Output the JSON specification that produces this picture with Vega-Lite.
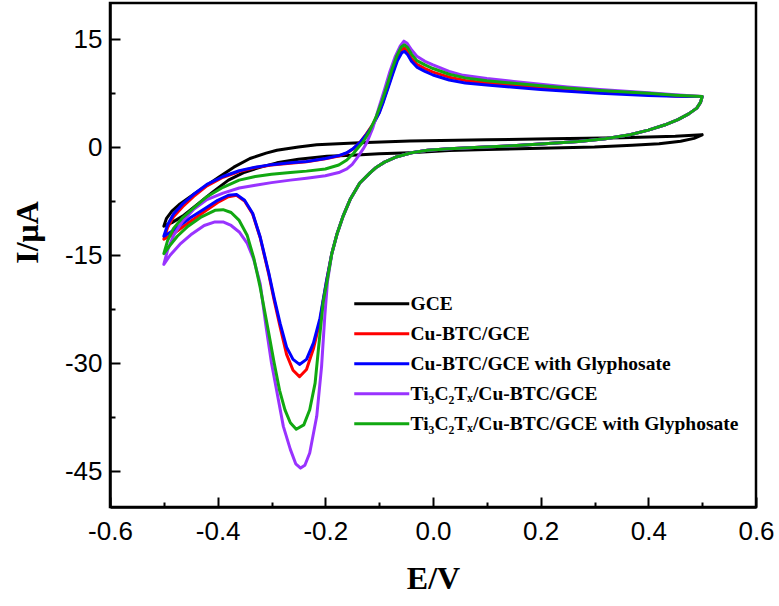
{
"$schema": "https://vega.github.io/schema/vega-lite/v6.json",
"width": 646, "height": 504,
"autosize": "none",
"padding": {"left": 110, "top": 3, "right": 23, "bottom": 99},
"background": "white",
"config": {"view": {"stroke": "black", "strokeWidth": 2.5},
 "axis": {"grid": false, "domainColor": "black", "domainWidth": 2.5, "tickColor": "black", "tickWidth": 2, "labelColor": "black", "titleColor": "black", "labelFont": "Liberation Sans", "labelFontSize": 26, "titleFont": "Liberation Serif", "titleFontWeight": "bold", "titleFontSize": 32}},
"data": {"values": [
{"s":"GCE","i":0,"E":0.5,"I":1.7},{"s":"GCE","i":1,"E":0.485,"I":1.2},{"s":"GCE","i":2,"E":0.46,"I":0.8},{"s":"GCE","i":3,"E":0.42,"I":0.45},{"s":"GCE","i":4,"E":0.37,"I":0.25},{"s":"GCE","i":5,"E":0.3,"I":0.0},{"s":"GCE","i":6,"E":0.22,"I":-0.15},{"s":"GCE","i":7,"E":0.1,"I":-0.35},{"s":"GCE","i":8,"E":0.03,"I":-0.5},{"s":"GCE","i":9,"E":-0.043,"I":-0.8},{"s":"GCE","i":10,"E":-0.1,"I":-0.95},{"s":"GCE","i":11,"E":-0.15,"I":-1.15},{"s":"GCE","i":12,"E":-0.197,"I":-1.3},{"s":"GCE","i":13,"E":-0.25,"I":-1.7},{"s":"GCE","i":14,"E":-0.29,"I":-2.2},{"s":"GCE","i":15,"E":-0.32,"I":-2.8},{"s":"GCE","i":16,"E":-0.35,"I":-3.5},{"s":"GCE","i":17,"E":-0.38,"I":-4.6},{"s":"GCE","i":18,"E":-0.41,"I":-6.3},{"s":"GCE","i":19,"E":-0.44,"I":-8.1},{"s":"GCE","i":20,"E":-0.465,"I":-9.6},{"s":"GCE","i":21,"E":-0.485,"I":-10.5},{"s":"GCE","i":22,"E":-0.5,"I":-11.0},{"s":"GCE","i":23,"E":-0.495,"I":-9.9},{"s":"GCE","i":24,"E":-0.485,"I":-8.9},{"s":"GCE","i":25,"E":-0.47,"I":-7.9},{"s":"GCE","i":26,"E":-0.445,"I":-6.6},{"s":"GCE","i":27,"E":-0.42,"I":-5.3},{"s":"GCE","i":28,"E":-0.396,"I":-4.1},{"s":"GCE","i":29,"E":-0.37,"I":-2.8},{"s":"GCE","i":30,"E":-0.34,"I":-1.6},{"s":"GCE","i":31,"E":-0.31,"I":-0.85},{"s":"GCE","i":32,"E":-0.29,"I":-0.45},{"s":"GCE","i":33,"E":-0.25,"I":0.0},{"s":"GCE","i":34,"E":-0.216,"I":0.3},{"s":"GCE","i":35,"E":-0.136,"I":0.6},{"s":"GCE","i":36,"E":-0.043,"I":0.85},{"s":"GCE","i":37,"E":0.1,"I":1.0},{"s":"GCE","i":38,"E":0.22,"I":1.15},{"s":"GCE","i":39,"E":0.35,"I":1.3},{"s":"GCE","i":40,"E":0.45,"I":1.5},{"s":"GCE","i":41,"E":0.5,"I":1.7},

{"s":"Cu-BTC/GCE","i":0,"E":0.5,"I":7.0},{"s":"Cu-BTC/GCE","i":1,"E":0.497,"I":6.2},{"s":"Cu-BTC/GCE","i":2,"E":0.49,"I":5.4},{"s":"Cu-BTC/GCE","i":3,"E":0.475,"I":4.6},{"s":"Cu-BTC/GCE","i":4,"E":0.455,"I":3.8},{"s":"Cu-BTC/GCE","i":5,"E":0.43,"I":3.05},{"s":"Cu-BTC/GCE","i":6,"E":0.4,"I":2.35},{"s":"Cu-BTC/GCE","i":7,"E":0.366,"I":1.7},{"s":"Cu-BTC/GCE","i":8,"E":0.32,"I":1.15},{"s":"Cu-BTC/GCE","i":9,"E":0.27,"I":0.75},{"s":"Cu-BTC/GCE","i":10,"E":0.2,"I":0.4},{"s":"Cu-BTC/GCE","i":11,"E":0.14,"I":0.15},{"s":"Cu-BTC/GCE","i":12,"E":0.087,"I":-0.05},{"s":"Cu-BTC/GCE","i":13,"E":0.03,"I":-0.25},{"s":"Cu-BTC/GCE","i":14,"E":-0.01,"I":-0.45},{"s":"Cu-BTC/GCE","i":15,"E":-0.04,"I":-0.8},{"s":"Cu-BTC/GCE","i":16,"E":-0.067,"I":-1.35},{"s":"Cu-BTC/GCE","i":17,"E":-0.09,"I":-2.1},{"s":"Cu-BTC/GCE","i":18,"E":-0.105,"I":-2.8},{"s":"Cu-BTC/GCE","i":19,"E":-0.117,"I":-3.6},{"s":"Cu-BTC/GCE","i":20,"E":-0.136,"I":-5.0},{"s":"Cu-BTC/GCE","i":21,"E":-0.154,"I":-7.3},{"s":"Cu-BTC/GCE","i":22,"E":-0.167,"I":-9.6},{"s":"Cu-BTC/GCE","i":23,"E":-0.178,"I":-12.0},{"s":"Cu-BTC/GCE","i":24,"E":-0.188,"I":-14.8},{"s":"Cu-BTC/GCE","i":25,"E":-0.198,"I":-18.7},
{"s":"Cu-BTC/GCE","i":26,"E":-0.204,"I":-21.4},{"s":"Cu-BTC/GCE","i":27,"E":-0.21,"I":-24.2},{"s":"Cu-BTC/GCE","i":28,"E":-0.222,"I":-28.0},{"s":"Cu-BTC/GCE","i":29,"E":-0.235,"I":-30.9},{"s":"Cu-BTC/GCE","i":30,"E":-0.248,"I":-31.9},{"s":"Cu-BTC/GCE","i":31,"E":-0.26,"I":-31.0},{"s":"Cu-BTC/GCE","i":32,"E":-0.272,"I":-28.8},{"s":"Cu-BTC/GCE","i":33,"E":-0.284,"I":-25.0},{"s":"Cu-BTC/GCE","i":34,"E":-0.295,"I":-21.3},{"s":"Cu-BTC/GCE","i":35,"E":-0.305,"I":-17.7},{"s":"Cu-BTC/GCE","i":36,"E":-0.321,"I":-12.6},{"s":"Cu-BTC/GCE","i":37,"E":-0.335,"I":-9.3},{"s":"Cu-BTC/GCE","i":38,"E":-0.35,"I":-7.5},{"s":"Cu-BTC/GCE","i":39,"E":-0.365,"I":-6.7},{"s":"Cu-BTC/GCE","i":40,"E":-0.38,"I":-6.9},{"s":"Cu-BTC/GCE","i":41,"E":-0.4,"I":-7.7},{"s":"Cu-BTC/GCE","i":42,"E":-0.425,"I":-9.0},{"s":"Cu-BTC/GCE","i":43,"E":-0.45,"I":-10.3},{"s":"Cu-BTC/GCE","i":44,"E":-0.47,"I":-11.4},{"s":"Cu-BTC/GCE","i":45,"E":-0.485,"I":-12.2},{"s":"Cu-BTC/GCE","i":46,"E":-0.5,"I":-12.8},
{"s":"Cu-BTC/GCE","i":47,"E":-0.493,"I":-11.2},{"s":"Cu-BTC/GCE","i":48,"E":-0.482,"I":-9.7},{"s":"Cu-BTC/GCE","i":49,"E":-0.465,"I":-8.3},{"s":"Cu-BTC/GCE","i":50,"E":-0.445,"I":-6.9},{"s":"Cu-BTC/GCE","i":51,"E":-0.42,"I":-5.4},{"s":"Cu-BTC/GCE","i":52,"E":-0.39,"I":-4.2},{"s":"Cu-BTC/GCE","i":53,"E":-0.36,"I":-3.4},{"s":"Cu-BTC/GCE","i":54,"E":-0.33,"I":-2.85},{"s":"Cu-BTC/GCE","i":55,"E":-0.3,"I":-2.5},{"s":"Cu-BTC/GCE","i":56,"E":-0.265,"I":-2.25},{"s":"Cu-BTC/GCE","i":57,"E":-0.235,"I":-2.05},{"s":"Cu-BTC/GCE","i":58,"E":-0.2,"I":-1.65},{"s":"Cu-BTC/GCE","i":59,"E":-0.175,"I":-1.25},{"s":"Cu-BTC/GCE","i":60,"E":-0.16,"I":-0.85},{"s":"Cu-BTC/GCE","i":61,"E":-0.148,"I":-0.25},{"s":"Cu-BTC/GCE","i":62,"E":-0.136,"I":0.6},{"s":"Cu-BTC/GCE","i":63,"E":-0.124,"I":1.8},{"s":"Cu-BTC/GCE","i":64,"E":-0.112,"I":3.1},{"s":"Cu-BTC/GCE","i":65,"E":-0.1,"I":4.8},{"s":"Cu-BTC/GCE","i":66,"E":-0.092,"I":6.5},{"s":"Cu-BTC/GCE","i":67,"E":-0.083,"I":8.5},{"s":"Cu-BTC/GCE","i":68,"E":-0.074,"I":10.6},{"s":"Cu-BTC/GCE","i":69,"E":-0.066,"I":12.4},{"s":"Cu-BTC/GCE","i":70,"E":-0.058,"I":13.5},{"s":"Cu-BTC/GCE","i":71,"E":-0.053,"I":13.75},{"s":"Cu-BTC/GCE","i":72,"E":-0.047,"I":13.2},{"s":"Cu-BTC/GCE","i":73,"E":-0.04,"I":12.3},{"s":"Cu-BTC/GCE","i":74,"E":-0.03,"I":11.5},{"s":"Cu-BTC/GCE","i":75,"E":-0.015,"I":10.9},{"s":"Cu-BTC/GCE","i":76,"E":0.0,"I":10.4},{"s":"Cu-BTC/GCE","i":77,"E":0.03,"I":9.7},{"s":"Cu-BTC/GCE","i":78,"E":0.06,"I":9.25},{"s":"Cu-BTC/GCE","i":79,"E":0.1,"I":8.9},{"s":"Cu-BTC/GCE","i":80,"E":0.15,"I":8.55},{"s":"Cu-BTC/GCE","i":81,"E":0.2,"I":8.25},{"s":"Cu-BTC/GCE","i":82,"E":0.25,"I":7.95},{"s":"Cu-BTC/GCE","i":83,"E":0.31,"I":7.65},{"s":"Cu-BTC/GCE","i":84,"E":0.4,"I":7.3},{"s":"Cu-BTC/GCE","i":85,"E":0.45,"I":7.1},{"s":"Cu-BTC/GCE","i":86,"E":0.5,"I":7.0},

{"s":"Cu-BTC/GCE with Glyphosate","i":0,"E":0.5,"I":7.0},{"s":"Cu-BTC/GCE with Glyphosate","i":1,"E":0.497,"I":6.2},{"s":"Cu-BTC/GCE with Glyphosate","i":2,"E":0.49,"I":5.4},{"s":"Cu-BTC/GCE with Glyphosate","i":3,"E":0.475,"I":4.6},{"s":"Cu-BTC/GCE with Glyphosate","i":4,"E":0.455,"I":3.8},{"s":"Cu-BTC/GCE with Glyphosate","i":5,"E":0.43,"I":3.05},{"s":"Cu-BTC/GCE with Glyphosate","i":6,"E":0.4,"I":2.35},{"s":"Cu-BTC/GCE with Glyphosate","i":7,"E":0.366,"I":1.7},{"s":"Cu-BTC/GCE with Glyphosate","i":8,"E":0.32,"I":1.15},{"s":"Cu-BTC/GCE with Glyphosate","i":9,"E":0.27,"I":0.75},{"s":"Cu-BTC/GCE with Glyphosate","i":10,"E":0.2,"I":0.4},{"s":"Cu-BTC/GCE with Glyphosate","i":11,"E":0.14,"I":0.15},{"s":"Cu-BTC/GCE with Glyphosate","i":12,"E":0.087,"I":-0.05},{"s":"Cu-BTC/GCE with Glyphosate","i":13,"E":0.03,"I":-0.25},{"s":"Cu-BTC/GCE with Glyphosate","i":14,"E":-0.01,"I":-0.45},{"s":"Cu-BTC/GCE with Glyphosate","i":15,"E":-0.04,"I":-0.8},{"s":"Cu-BTC/GCE with Glyphosate","i":16,"E":-0.067,"I":-1.35},{"s":"Cu-BTC/GCE with Glyphosate","i":17,"E":-0.09,"I":-2.1},{"s":"Cu-BTC/GCE with Glyphosate","i":18,"E":-0.105,"I":-2.8},{"s":"Cu-BTC/GCE with Glyphosate","i":19,"E":-0.117,"I":-3.6},{"s":"Cu-BTC/GCE with Glyphosate","i":20,"E":-0.136,"I":-5.0},{"s":"Cu-BTC/GCE with Glyphosate","i":21,"E":-0.154,"I":-7.3},{"s":"Cu-BTC/GCE with Glyphosate","i":22,"E":-0.167,"I":-9.6},{"s":"Cu-BTC/GCE with Glyphosate","i":23,"E":-0.178,"I":-12.0},{"s":"Cu-BTC/GCE with Glyphosate","i":24,"E":-0.188,"I":-14.8},{"s":"Cu-BTC/GCE with Glyphosate","i":25,"E":-0.198,"I":-18.7},
{"s":"Cu-BTC/GCE with Glyphosate","i":26,"E":-0.204,"I":-21.2},{"s":"Cu-BTC/GCE with Glyphosate","i":27,"E":-0.21,"I":-23.8},{"s":"Cu-BTC/GCE with Glyphosate","i":28,"E":-0.222,"I":-27.2},{"s":"Cu-BTC/GCE with Glyphosate","i":29,"E":-0.235,"I":-29.5},{"s":"Cu-BTC/GCE with Glyphosate","i":30,"E":-0.248,"I":-30.2},{"s":"Cu-BTC/GCE with Glyphosate","i":31,"E":-0.26,"I":-29.5},{"s":"Cu-BTC/GCE with Glyphosate","i":32,"E":-0.272,"I":-27.8},{"s":"Cu-BTC/GCE with Glyphosate","i":33,"E":-0.284,"I":-24.5},{"s":"Cu-BTC/GCE with Glyphosate","i":34,"E":-0.295,"I":-21.0},{"s":"Cu-BTC/GCE with Glyphosate","i":35,"E":-0.305,"I":-17.5},{"s":"Cu-BTC/GCE with Glyphosate","i":36,"E":-0.321,"I":-12.5},{"s":"Cu-BTC/GCE with Glyphosate","i":37,"E":-0.335,"I":-9.2},{"s":"Cu-BTC/GCE with Glyphosate","i":38,"E":-0.35,"I":-7.4},{"s":"Cu-BTC/GCE with Glyphosate","i":39,"E":-0.365,"I":-6.6},{"s":"Cu-BTC/GCE with Glyphosate","i":40,"E":-0.38,"I":-6.7},{"s":"Cu-BTC/GCE with Glyphosate","i":41,"E":-0.4,"I":-7.4},{"s":"Cu-BTC/GCE with Glyphosate","i":42,"E":-0.425,"I":-8.6},{"s":"Cu-BTC/GCE with Glyphosate","i":43,"E":-0.45,"I":-9.8},{"s":"Cu-BTC/GCE with Glyphosate","i":44,"E":-0.47,"I":-10.9},{"s":"Cu-BTC/GCE with Glyphosate","i":45,"E":-0.485,"I":-11.7},{"s":"Cu-BTC/GCE with Glyphosate","i":46,"E":-0.5,"I":-12.4},
{"s":"Cu-BTC/GCE with Glyphosate","i":47,"E":-0.493,"I":-10.8},{"s":"Cu-BTC/GCE with Glyphosate","i":48,"E":-0.482,"I":-9.3},{"s":"Cu-BTC/GCE with Glyphosate","i":49,"E":-0.465,"I":-7.9},{"s":"Cu-BTC/GCE with Glyphosate","i":50,"E":-0.445,"I":-6.6},{"s":"Cu-BTC/GCE with Glyphosate","i":51,"E":-0.42,"I":-5.2},{"s":"Cu-BTC/GCE with Glyphosate","i":52,"E":-0.39,"I":-4.1},{"s":"Cu-BTC/GCE with Glyphosate","i":53,"E":-0.36,"I":-3.3},{"s":"Cu-BTC/GCE with Glyphosate","i":54,"E":-0.33,"I":-2.8},{"s":"Cu-BTC/GCE with Glyphosate","i":55,"E":-0.3,"I":-2.45},{"s":"Cu-BTC/GCE with Glyphosate","i":56,"E":-0.265,"I":-2.2},{"s":"Cu-BTC/GCE with Glyphosate","i":57,"E":-0.235,"I":-2.0},{"s":"Cu-BTC/GCE with Glyphosate","i":58,"E":-0.2,"I":-1.6},{"s":"Cu-BTC/GCE with Glyphosate","i":59,"E":-0.175,"I":-1.2},{"s":"Cu-BTC/GCE with Glyphosate","i":60,"E":-0.16,"I":-0.8},{"s":"Cu-BTC/GCE with Glyphosate","i":61,"E":-0.148,"I":-0.2},{"s":"Cu-BTC/GCE with Glyphosate","i":62,"E":-0.136,"I":0.6},{"s":"Cu-BTC/GCE with Glyphosate","i":63,"E":-0.124,"I":1.7},{"s":"Cu-BTC/GCE with Glyphosate","i":64,"E":-0.112,"I":3.0},{"s":"Cu-BTC/GCE with Glyphosate","i":65,"E":-0.1,"I":4.7},{"s":"Cu-BTC/GCE with Glyphosate","i":66,"E":-0.092,"I":6.3},{"s":"Cu-BTC/GCE with Glyphosate","i":67,"E":-0.083,"I":8.3},{"s":"Cu-BTC/GCE with Glyphosate","i":68,"E":-0.074,"I":10.3},{"s":"Cu-BTC/GCE with Glyphosate","i":69,"E":-0.066,"I":12.0},{"s":"Cu-BTC/GCE with Glyphosate","i":70,"E":-0.058,"I":13.1},{"s":"Cu-BTC/GCE with Glyphosate","i":71,"E":-0.053,"I":13.3},{"s":"Cu-BTC/GCE with Glyphosate","i":72,"E":-0.047,"I":12.8},{"s":"Cu-BTC/GCE with Glyphosate","i":73,"E":-0.04,"I":11.9},{"s":"Cu-BTC/GCE with Glyphosate","i":74,"E":-0.03,"I":11.1},{"s":"Cu-BTC/GCE with Glyphosate","i":75,"E":-0.015,"I":10.5},{"s":"Cu-BTC/GCE with Glyphosate","i":76,"E":0.0,"I":10.0},{"s":"Cu-BTC/GCE with Glyphosate","i":77,"E":0.03,"I":9.3},{"s":"Cu-BTC/GCE with Glyphosate","i":78,"E":0.06,"I":8.9},{"s":"Cu-BTC/GCE with Glyphosate","i":79,"E":0.1,"I":8.6},{"s":"Cu-BTC/GCE with Glyphosate","i":80,"E":0.15,"I":8.3},{"s":"Cu-BTC/GCE with Glyphosate","i":81,"E":0.2,"I":8.0},{"s":"Cu-BTC/GCE with Glyphosate","i":82,"E":0.25,"I":7.75},{"s":"Cu-BTC/GCE with Glyphosate","i":83,"E":0.31,"I":7.45},{"s":"Cu-BTC/GCE with Glyphosate","i":84,"E":0.4,"I":7.15},{"s":"Cu-BTC/GCE with Glyphosate","i":85,"E":0.45,"I":7.05},{"s":"Cu-BTC/GCE with Glyphosate","i":86,"E":0.5,"I":7.0},

{"s":"Ti₃C₂Tₓ/Cu-BTC/GCE","i":0,"E":0.5,"I":7.0},{"s":"Ti₃C₂Tₓ/Cu-BTC/GCE","i":1,"E":0.497,"I":6.2},{"s":"Ti₃C₂Tₓ/Cu-BTC/GCE","i":2,"E":0.49,"I":5.4},{"s":"Ti₃C₂Tₓ/Cu-BTC/GCE","i":3,"E":0.475,"I":4.6},{"s":"Ti₃C₂Tₓ/Cu-BTC/GCE","i":4,"E":0.455,"I":3.8},{"s":"Ti₃C₂Tₓ/Cu-BTC/GCE","i":5,"E":0.43,"I":3.05},{"s":"Ti₃C₂Tₓ/Cu-BTC/GCE","i":6,"E":0.4,"I":2.35},{"s":"Ti₃C₂Tₓ/Cu-BTC/GCE","i":7,"E":0.366,"I":1.7},{"s":"Ti₃C₂Tₓ/Cu-BTC/GCE","i":8,"E":0.32,"I":1.15},{"s":"Ti₃C₂Tₓ/Cu-BTC/GCE","i":9,"E":0.27,"I":0.75},{"s":"Ti₃C₂Tₓ/Cu-BTC/GCE","i":10,"E":0.2,"I":0.4},{"s":"Ti₃C₂Tₓ/Cu-BTC/GCE","i":11,"E":0.14,"I":0.15},{"s":"Ti₃C₂Tₓ/Cu-BTC/GCE","i":12,"E":0.087,"I":-0.05},{"s":"Ti₃C₂Tₓ/Cu-BTC/GCE","i":13,"E":0.03,"I":-0.25},{"s":"Ti₃C₂Tₓ/Cu-BTC/GCE","i":14,"E":-0.01,"I":-0.45},{"s":"Ti₃C₂Tₓ/Cu-BTC/GCE","i":15,"E":-0.04,"I":-0.8},{"s":"Ti₃C₂Tₓ/Cu-BTC/GCE","i":16,"E":-0.067,"I":-1.35},{"s":"Ti₃C₂Tₓ/Cu-BTC/GCE","i":17,"E":-0.09,"I":-2.1},{"s":"Ti₃C₂Tₓ/Cu-BTC/GCE","i":18,"E":-0.105,"I":-2.8},{"s":"Ti₃C₂Tₓ/Cu-BTC/GCE","i":19,"E":-0.117,"I":-3.6},{"s":"Ti₃C₂Tₓ/Cu-BTC/GCE","i":20,"E":-0.136,"I":-5.0},{"s":"Ti₃C₂Tₓ/Cu-BTC/GCE","i":21,"E":-0.154,"I":-7.3},{"s":"Ti₃C₂Tₓ/Cu-BTC/GCE","i":22,"E":-0.167,"I":-9.6},{"s":"Ti₃C₂Tₓ/Cu-BTC/GCE","i":23,"E":-0.178,"I":-12.0},{"s":"Ti₃C₂Tₓ/Cu-BTC/GCE","i":24,"E":-0.188,"I":-14.8},{"s":"Ti₃C₂Tₓ/Cu-BTC/GCE","i":25,"E":-0.196,"I":-18.7},
{"s":"Ti₃C₂Tₓ/Cu-BTC/GCE","i":26,"E":-0.201,"I":-23.5},{"s":"Ti₃C₂Tₓ/Cu-BTC/GCE","i":27,"E":-0.207,"I":-30.5},{"s":"Ti₃C₂Tₓ/Cu-BTC/GCE","i":28,"E":-0.216,"I":-37.4},{"s":"Ti₃C₂Tₓ/Cu-BTC/GCE","i":29,"E":-0.229,"I":-42.5},{"s":"Ti₃C₂Tₓ/Cu-BTC/GCE","i":30,"E":-0.238,"I":-44.2},{"s":"Ti₃C₂Tₓ/Cu-BTC/GCE","i":31,"E":-0.246,"I":-44.6},{"s":"Ti₃C₂Tₓ/Cu-BTC/GCE","i":32,"E":-0.255,"I":-44.0},{"s":"Ti₃C₂Tₓ/Cu-BTC/GCE","i":33,"E":-0.265,"I":-42.0},{"s":"Ti₃C₂Tₓ/Cu-BTC/GCE","i":34,"E":-0.278,"I":-38.8},{"s":"Ti₃C₂Tₓ/Cu-BTC/GCE","i":35,"E":-0.29,"I":-34.0},{"s":"Ti₃C₂Tₓ/Cu-BTC/GCE","i":36,"E":-0.3,"I":-30.0},{"s":"Ti₃C₂Tₓ/Cu-BTC/GCE","i":37,"E":-0.31,"I":-25.0},{"s":"Ti₃C₂Tₓ/Cu-BTC/GCE","i":38,"E":-0.321,"I":-19.0},{"s":"Ti₃C₂Tₓ/Cu-BTC/GCE","i":39,"E":-0.333,"I":-15.6},{"s":"Ti₃C₂Tₓ/Cu-BTC/GCE","i":40,"E":-0.345,"I":-13.4},{"s":"Ti₃C₂Tₓ/Cu-BTC/GCE","i":41,"E":-0.36,"I":-11.8},{"s":"Ti₃C₂Tₓ/Cu-BTC/GCE","i":42,"E":-0.375,"I":-10.9},{"s":"Ti₃C₂Tₓ/Cu-BTC/GCE","i":43,"E":-0.39,"I":-10.4},{"s":"Ti₃C₂Tₓ/Cu-BTC/GCE","i":44,"E":-0.405,"I":-10.4},{"s":"Ti₃C₂Tₓ/Cu-BTC/GCE","i":45,"E":-0.425,"I":-10.9},{"s":"Ti₃C₂Tₓ/Cu-BTC/GCE","i":46,"E":-0.45,"I":-12.2},{"s":"Ti₃C₂Tₓ/Cu-BTC/GCE","i":47,"E":-0.47,"I":-13.5},{"s":"Ti₃C₂Tₓ/Cu-BTC/GCE","i":48,"E":-0.488,"I":-15.0},{"s":"Ti₃C₂Tₓ/Cu-BTC/GCE","i":49,"E":-0.5,"I":-16.3},
{"s":"Ti₃C₂Tₓ/Cu-BTC/GCE","i":50,"E":-0.493,"I":-14.3},{"s":"Ti₃C₂Tₓ/Cu-BTC/GCE","i":51,"E":-0.482,"I":-12.3},{"s":"Ti₃C₂Tₓ/Cu-BTC/GCE","i":52,"E":-0.465,"I":-10.3},{"s":"Ti₃C₂Tₓ/Cu-BTC/GCE","i":53,"E":-0.445,"I":-8.7},{"s":"Ti₃C₂Tₓ/Cu-BTC/GCE","i":54,"E":-0.42,"I":-7.3},{"s":"Ti₃C₂Tₓ/Cu-BTC/GCE","i":55,"E":-0.39,"I":-6.4},{"s":"Ti₃C₂Tₓ/Cu-BTC/GCE","i":56,"E":-0.36,"I":-5.7},{"s":"Ti₃C₂Tₓ/Cu-BTC/GCE","i":57,"E":-0.33,"I":-5.3},{"s":"Ti₃C₂Tₓ/Cu-BTC/GCE","i":58,"E":-0.3,"I":-4.95},{"s":"Ti₃C₂Tₓ/Cu-BTC/GCE","i":59,"E":-0.265,"I":-4.6},{"s":"Ti₃C₂Tₓ/Cu-BTC/GCE","i":60,"E":-0.235,"I":-4.35},{"s":"Ti₃C₂Tₓ/Cu-BTC/GCE","i":61,"E":-0.2,"I":-4.0},{"s":"Ti₃C₂Tₓ/Cu-BTC/GCE","i":62,"E":-0.175,"I":-3.55},{"s":"Ti₃C₂Tₓ/Cu-BTC/GCE","i":63,"E":-0.16,"I":-3.05},{"s":"Ti₃C₂Tₓ/Cu-BTC/GCE","i":64,"E":-0.15,"I":-2.4},{"s":"Ti₃C₂Tₓ/Cu-BTC/GCE","i":65,"E":-0.14,"I":-1.4},{"s":"Ti₃C₂Tₓ/Cu-BTC/GCE","i":66,"E":-0.13,"I":-0.3},{"s":"Ti₃C₂Tₓ/Cu-BTC/GCE","i":67,"E":-0.123,"I":0.6},{"s":"Ti₃C₂Tₓ/Cu-BTC/GCE","i":68,"E":-0.112,"I":2.6},{"s":"Ti₃C₂Tₓ/Cu-BTC/GCE","i":69,"E":-0.1,"I":5.6},{"s":"Ti₃C₂Tₓ/Cu-BTC/GCE","i":70,"E":-0.09,"I":8.0},{"s":"Ti₃C₂Tₓ/Cu-BTC/GCE","i":71,"E":-0.08,"I":10.5},{"s":"Ti₃C₂Tₓ/Cu-BTC/GCE","i":72,"E":-0.07,"I":12.6},{"s":"Ti₃C₂Tₓ/Cu-BTC/GCE","i":73,"E":-0.061,"I":14.0},{"s":"Ti₃C₂Tₓ/Cu-BTC/GCE","i":74,"E":-0.054,"I":14.7},{"s":"Ti₃C₂Tₓ/Cu-BTC/GCE","i":75,"E":-0.048,"I":14.4},{"s":"Ti₃C₂Tₓ/Cu-BTC/GCE","i":76,"E":-0.04,"I":13.5},{"s":"Ti₃C₂Tₓ/Cu-BTC/GCE","i":77,"E":-0.03,"I":12.6},{"s":"Ti₃C₂Tₓ/Cu-BTC/GCE","i":78,"E":-0.015,"I":11.9},{"s":"Ti₃C₂Tₓ/Cu-BTC/GCE","i":79,"E":0.0,"I":11.4},{"s":"Ti₃C₂Tₓ/Cu-BTC/GCE","i":80,"E":0.03,"I":10.5},{"s":"Ti₃C₂Tₓ/Cu-BTC/GCE","i":81,"E":0.056,"I":9.95},{"s":"Ti₃C₂Tₓ/Cu-BTC/GCE","i":82,"E":0.1,"I":9.5},{"s":"Ti₃C₂Tₓ/Cu-BTC/GCE","i":83,"E":0.15,"I":9.1},{"s":"Ti₃C₂Tₓ/Cu-BTC/GCE","i":84,"E":0.2,"I":8.7},{"s":"Ti₃C₂Tₓ/Cu-BTC/GCE","i":85,"E":0.25,"I":8.35},{"s":"Ti₃C₂Tₓ/Cu-BTC/GCE","i":86,"E":0.31,"I":8.0},{"s":"Ti₃C₂Tₓ/Cu-BTC/GCE","i":87,"E":0.4,"I":7.55},{"s":"Ti₃C₂Tₓ/Cu-BTC/GCE","i":88,"E":0.45,"I":7.25},{"s":"Ti₃C₂Tₓ/Cu-BTC/GCE","i":89,"E":0.5,"I":7.0},

{"s":"Ti₃C₂Tₓ/Cu-BTC/GCE with Glyphosate","i":0,"E":0.5,"I":7.0},{"s":"Ti₃C₂Tₓ/Cu-BTC/GCE with Glyphosate","i":1,"E":0.497,"I":6.2},{"s":"Ti₃C₂Tₓ/Cu-BTC/GCE with Glyphosate","i":2,"E":0.49,"I":5.4},{"s":"Ti₃C₂Tₓ/Cu-BTC/GCE with Glyphosate","i":3,"E":0.475,"I":4.6},{"s":"Ti₃C₂Tₓ/Cu-BTC/GCE with Glyphosate","i":4,"E":0.455,"I":3.8},{"s":"Ti₃C₂Tₓ/Cu-BTC/GCE with Glyphosate","i":5,"E":0.43,"I":3.05},{"s":"Ti₃C₂Tₓ/Cu-BTC/GCE with Glyphosate","i":6,"E":0.4,"I":2.35},{"s":"Ti₃C₂Tₓ/Cu-BTC/GCE with Glyphosate","i":7,"E":0.366,"I":1.7},{"s":"Ti₃C₂Tₓ/Cu-BTC/GCE with Glyphosate","i":8,"E":0.32,"I":1.15},{"s":"Ti₃C₂Tₓ/Cu-BTC/GCE with Glyphosate","i":9,"E":0.27,"I":0.75},{"s":"Ti₃C₂Tₓ/Cu-BTC/GCE with Glyphosate","i":10,"E":0.2,"I":0.4},{"s":"Ti₃C₂Tₓ/Cu-BTC/GCE with Glyphosate","i":11,"E":0.14,"I":0.15},{"s":"Ti₃C₂Tₓ/Cu-BTC/GCE with Glyphosate","i":12,"E":0.087,"I":-0.05},{"s":"Ti₃C₂Tₓ/Cu-BTC/GCE with Glyphosate","i":13,"E":0.03,"I":-0.25},{"s":"Ti₃C₂Tₓ/Cu-BTC/GCE with Glyphosate","i":14,"E":-0.01,"I":-0.45},{"s":"Ti₃C₂Tₓ/Cu-BTC/GCE with Glyphosate","i":15,"E":-0.04,"I":-0.8},{"s":"Ti₃C₂Tₓ/Cu-BTC/GCE with Glyphosate","i":16,"E":-0.067,"I":-1.35},{"s":"Ti₃C₂Tₓ/Cu-BTC/GCE with Glyphosate","i":17,"E":-0.09,"I":-2.1},{"s":"Ti₃C₂Tₓ/Cu-BTC/GCE with Glyphosate","i":18,"E":-0.105,"I":-2.8},{"s":"Ti₃C₂Tₓ/Cu-BTC/GCE with Glyphosate","i":19,"E":-0.117,"I":-3.6},{"s":"Ti₃C₂Tₓ/Cu-BTC/GCE with Glyphosate","i":20,"E":-0.136,"I":-5.0},{"s":"Ti₃C₂Tₓ/Cu-BTC/GCE with Glyphosate","i":21,"E":-0.154,"I":-7.3},{"s":"Ti₃C₂Tₓ/Cu-BTC/GCE with Glyphosate","i":22,"E":-0.167,"I":-9.6},{"s":"Ti₃C₂Tₓ/Cu-BTC/GCE with Glyphosate","i":23,"E":-0.178,"I":-12.0},{"s":"Ti₃C₂Tₓ/Cu-BTC/GCE with Glyphosate","i":24,"E":-0.188,"I":-14.8},{"s":"Ti₃C₂Tₓ/Cu-BTC/GCE with Glyphosate","i":25,"E":-0.197,"I":-18.7},
{"s":"Ti₃C₂Tₓ/Cu-BTC/GCE with Glyphosate","i":26,"E":-0.204,"I":-21.5},{"s":"Ti₃C₂Tₓ/Cu-BTC/GCE with Glyphosate","i":27,"E":-0.208,"I":-24.5},{"s":"Ti₃C₂Tₓ/Cu-BTC/GCE with Glyphosate","i":28,"E":-0.213,"I":-28.2},{"s":"Ti₃C₂Tₓ/Cu-BTC/GCE with Glyphosate","i":29,"E":-0.219,"I":-32.8},{"s":"Ti₃C₂Tₓ/Cu-BTC/GCE with Glyphosate","i":30,"E":-0.229,"I":-36.5},{"s":"Ti₃C₂Tₓ/Cu-BTC/GCE with Glyphosate","i":31,"E":-0.24,"I":-38.6},{"s":"Ti₃C₂Tₓ/Cu-BTC/GCE with Glyphosate","i":32,"E":-0.254,"I":-39.2},{"s":"Ti₃C₂Tₓ/Cu-BTC/GCE with Glyphosate","i":33,"E":-0.265,"I":-38.3},{"s":"Ti₃C₂Tₓ/Cu-BTC/GCE with Glyphosate","i":34,"E":-0.275,"I":-36.5},{"s":"Ti₃C₂Tₓ/Cu-BTC/GCE with Glyphosate","i":35,"E":-0.285,"I":-33.8},{"s":"Ti₃C₂Tₓ/Cu-BTC/GCE with Glyphosate","i":36,"E":-0.295,"I":-30.0},{"s":"Ti₃C₂Tₓ/Cu-BTC/GCE with Glyphosate","i":37,"E":-0.306,"I":-25.5},{"s":"Ti₃C₂Tₓ/Cu-BTC/GCE with Glyphosate","i":38,"E":-0.321,"I":-19.5},{"s":"Ti₃C₂Tₓ/Cu-BTC/GCE with Glyphosate","i":39,"E":-0.333,"I":-15.4},{"s":"Ti₃C₂Tₓ/Cu-BTC/GCE with Glyphosate","i":40,"E":-0.345,"I":-12.3},{"s":"Ti₃C₂Tₓ/Cu-BTC/GCE with Glyphosate","i":41,"E":-0.36,"I":-10.2},{"s":"Ti₃C₂Tₓ/Cu-BTC/GCE with Glyphosate","i":42,"E":-0.375,"I":-9.1},{"s":"Ti₃C₂Tₓ/Cu-BTC/GCE with Glyphosate","i":43,"E":-0.39,"I":-8.7},{"s":"Ti₃C₂Tₓ/Cu-BTC/GCE with Glyphosate","i":44,"E":-0.405,"I":-8.8},{"s":"Ti₃C₂Tₓ/Cu-BTC/GCE with Glyphosate","i":45,"E":-0.43,"I":-9.7},{"s":"Ti₃C₂Tₓ/Cu-BTC/GCE with Glyphosate","i":46,"E":-0.455,"I":-11.0},{"s":"Ti₃C₂Tₓ/Cu-BTC/GCE with Glyphosate","i":47,"E":-0.475,"I":-12.4},{"s":"Ti₃C₂Tₓ/Cu-BTC/GCE with Glyphosate","i":48,"E":-0.49,"I":-13.8},{"s":"Ti₃C₂Tₓ/Cu-BTC/GCE with Glyphosate","i":49,"E":-0.5,"I":-14.8},
{"s":"Ti₃C₂Tₓ/Cu-BTC/GCE with Glyphosate","i":50,"E":-0.493,"I":-13.0},{"s":"Ti₃C₂Tₓ/Cu-BTC/GCE with Glyphosate","i":51,"E":-0.482,"I":-11.3},{"s":"Ti₃C₂Tₓ/Cu-BTC/GCE with Glyphosate","i":52,"E":-0.465,"I":-9.8},{"s":"Ti₃C₂Tₓ/Cu-BTC/GCE with Glyphosate","i":53,"E":-0.445,"I":-8.5},{"s":"Ti₃C₂Tₓ/Cu-BTC/GCE with Glyphosate","i":54,"E":-0.42,"I":-6.9},{"s":"Ti₃C₂Tₓ/Cu-BTC/GCE with Glyphosate","i":55,"E":-0.39,"I":-5.6},{"s":"Ti₃C₂Tₓ/Cu-BTC/GCE with Glyphosate","i":56,"E":-0.36,"I":-4.6},{"s":"Ti₃C₂Tₓ/Cu-BTC/GCE with Glyphosate","i":57,"E":-0.33,"I":-4.1},{"s":"Ti₃C₂Tₓ/Cu-BTC/GCE with Glyphosate","i":58,"E":-0.3,"I":-3.8},{"s":"Ti₃C₂Tₓ/Cu-BTC/GCE with Glyphosate","i":59,"E":-0.265,"I":-3.55},{"s":"Ti₃C₂Tₓ/Cu-BTC/GCE with Glyphosate","i":60,"E":-0.235,"I":-3.35},{"s":"Ti₃C₂Tₓ/Cu-BTC/GCE with Glyphosate","i":61,"E":-0.2,"I":-3.05},{"s":"Ti₃C₂Tₓ/Cu-BTC/GCE with Glyphosate","i":62,"E":-0.175,"I":-2.5},{"s":"Ti₃C₂Tₓ/Cu-BTC/GCE with Glyphosate","i":63,"E":-0.16,"I":-1.8},{"s":"Ti₃C₂Tₓ/Cu-BTC/GCE with Glyphosate","i":64,"E":-0.148,"I":-0.9},{"s":"Ti₃C₂Tₓ/Cu-BTC/GCE with Glyphosate","i":65,"E":-0.138,"I":0.0},{"s":"Ti₃C₂Tₓ/Cu-BTC/GCE with Glyphosate","i":66,"E":-0.13,"I":0.7},{"s":"Ti₃C₂Tₓ/Cu-BTC/GCE with Glyphosate","i":67,"E":-0.118,"I":2.2},{"s":"Ti₃C₂Tₓ/Cu-BTC/GCE with Glyphosate","i":68,"E":-0.105,"I":4.3},{"s":"Ti₃C₂Tₓ/Cu-BTC/GCE with Glyphosate","i":69,"E":-0.095,"I":6.3},{"s":"Ti₃C₂Tₓ/Cu-BTC/GCE with Glyphosate","i":70,"E":-0.085,"I":8.6},{"s":"Ti₃C₂Tₓ/Cu-BTC/GCE with Glyphosate","i":71,"E":-0.076,"I":10.8},{"s":"Ti₃C₂Tₓ/Cu-BTC/GCE with Glyphosate","i":72,"E":-0.067,"I":12.7},{"s":"Ti₃C₂Tₓ/Cu-BTC/GCE with Glyphosate","i":73,"E":-0.059,"I":13.9},{"s":"Ti₃C₂Tₓ/Cu-BTC/GCE with Glyphosate","i":74,"E":-0.053,"I":14.2},{"s":"Ti₃C₂Tₓ/Cu-BTC/GCE with Glyphosate","i":75,"E":-0.047,"I":13.8},{"s":"Ti₃C₂Tₓ/Cu-BTC/GCE with Glyphosate","i":76,"E":-0.04,"I":12.9},{"s":"Ti₃C₂Tₓ/Cu-BTC/GCE with Glyphosate","i":77,"E":-0.03,"I":12.0},{"s":"Ti₃C₂Tₓ/Cu-BTC/GCE with Glyphosate","i":78,"E":-0.015,"I":11.4},{"s":"Ti₃C₂Tₓ/Cu-BTC/GCE with Glyphosate","i":79,"E":0.0,"I":10.9},{"s":"Ti₃C₂Tₓ/Cu-BTC/GCE with Glyphosate","i":80,"E":0.03,"I":10.1},{"s":"Ti₃C₂Tₓ/Cu-BTC/GCE with Glyphosate","i":81,"E":0.06,"I":9.6},{"s":"Ti₃C₂Tₓ/Cu-BTC/GCE with Glyphosate","i":82,"E":0.1,"I":9.2},{"s":"Ti₃C₂Tₓ/Cu-BTC/GCE with Glyphosate","i":83,"E":0.15,"I":8.85},{"s":"Ti₃C₂Tₓ/Cu-BTC/GCE with Glyphosate","i":84,"E":0.2,"I":8.5},{"s":"Ti₃C₂Tₓ/Cu-BTC/GCE with Glyphosate","i":85,"E":0.25,"I":8.2},{"s":"Ti₃C₂Tₓ/Cu-BTC/GCE with Glyphosate","i":86,"E":0.31,"I":7.85},{"s":"Ti₃C₂Tₓ/Cu-BTC/GCE with Glyphosate","i":87,"E":0.4,"I":7.45},{"s":"Ti₃C₂Tₓ/Cu-BTC/GCE with Glyphosate","i":88,"E":0.45,"I":7.2},{"s":"Ti₃C₂Tₓ/Cu-BTC/GCE with Glyphosate","i":89,"E":0.5,"I":7.0}
]},
"layer": [
 {"mark": {"type": "line", "strokeWidth": 3, "strokeJoin": "round", "strokeCap": "round"},
  "encoding": {
   "x": {"field": "E", "type": "quantitative", "scale": {"domain": [-0.6, 0.6], "nice": false, "zero": false},
     "axis": {"title": "E/V", "values": [-0.6,-0.4,-0.2,0,0.2,0.4,0.6], "labelExpr": "(datum.value < 0 ? '-' : '') + format(abs(datum.value), '.1f')", "tickSize": -10, "labelPadding": 21, "labelFlush": false, "titleX": 323, "titleY": 71, "titleBaseline": "middle", "titleAlign": "center"}},
   "y": {"field": "I", "type": "quantitative", "scale": {"domain": [-50, 20], "nice": false, "zero": false},
     "axis": {"title": "I/μA", "values": [-45,-30,-15,0,15], "labelExpr": "(datum.value < 0 ? '-' : '') + format(abs(datum.value), 'd')", "tickSize": -10, "labelPadding": 18, "titleAngle": 270, "titleX": -83, "titleY": 229, "titleBaseline": "middle", "titleAlign": "center"}},
   "color": {"field": "s", "type": "nominal",
     "scale": {"domain": ["GCE", "Cu-BTC/GCE", "Cu-BTC/GCE with Glyphosate", "Ti₃C₂Tₓ/Cu-BTC/GCE", "Ti₃C₂Tₓ/Cu-BTC/GCE with Glyphosate"], "range": ["#000000", "#ff0000", "#0000ff", "#9933ff", "#11a811"]},
     "legend": {"title": null, "orient": "none", "legendX": 262, "legendY": 291, "padding": 0, "symbolType": "M-5,0H5", "symbolSize": 121, "symbolStrokeWidth": 3, "labelFont": "Liberation Serif", "labelFontWeight": "bold", "labelFontSize": 19.5, "labelColor": "black", "labelOffset": 19, "rowPadding": 9, "labelLimit": 0}},
   "order": {"field": "i", "type": "quantitative"}
  }},
 {"mark": {"type": "point", "opacity": 0},
  "encoding": {
   "x": {"field": "E", "type": "quantitative", "axis": {"orient": "bottom", "values": [-0.5,-0.3,-0.1,0.1,0.3,0.5], "labels": false, "domain": false, "tickSize": -5, "title": null}},
   "y": {"field": "I", "type": "quantitative", "axis": {"orient": "left", "values": [-37.5,-22.5,-7.5,7.5], "labels": false, "domain": false, "tickSize": -5, "title": null}}
  }}
],
"resolve": {"axis": {"x": "independent", "y": "independent"}}
}
